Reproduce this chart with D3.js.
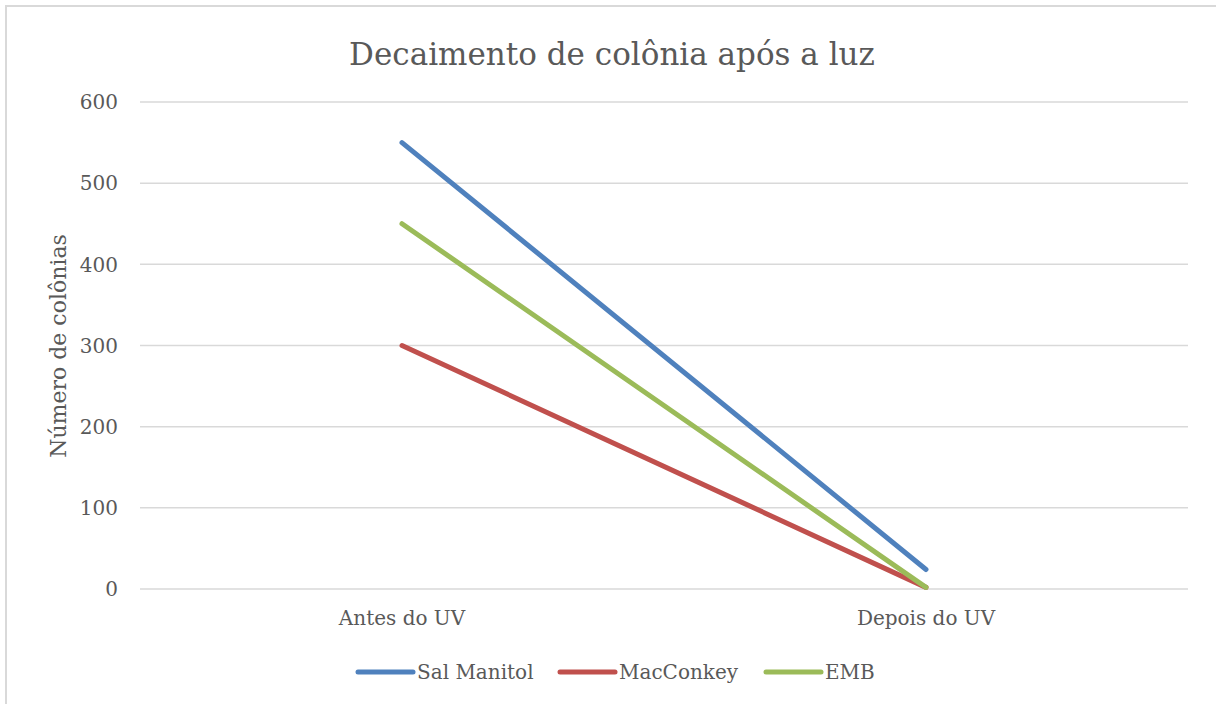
<!DOCTYPE html>
<html lang="pt">
<head>
<meta charset="utf-8">
<title>Decaimento de colônia após a luz</title>
<script src="https://cdn.jsdelivr.net/npm/d3@7"></script>
<style>
  body { margin: 0; background: #fff; }
  svg text { font-family: "DejaVu Serif", "Liberation Serif", serif; fill: #595959; }
  .grid line { stroke: #d9d9d9; stroke-width: 1.5px; }
</style>
</head>
<body>
<div id="chart"></div>
<script>
var categories = ["Antes do UV", "Depois do UV"];
var seriesNames = ["Sal Manitol", "MacConkey", "EMB"];
var salManitol = [550, 24];
var macConkey = [300, 2];
var emb = [450, 2];
var yTicks = [0, 100, 200, 300, 400, 500, 600];
var colors = ["#4f81bd", "#c0504d", "#9bbb59"];

var width = 1216, height = 704;
var margin = {left: 140, right: 28, top: 102, bottom: 115};

var svg = d3.select("#chart").append("svg")
    .attr("width", width)
    .attr("height", height);

// chart border (right and bottom fall outside the picture)
svg.append("rect")
    .attr("x", 6).attr("y", 6)
    .attr("width", width + 10).attr("height", height + 10)
    .attr("fill", "none")
    .attr("stroke", "#d9d9d9")
    .attr("stroke-width", 2);

var x = d3.scaleBand()
    .domain(categories)
    .range([margin.left, width - margin.right]);

var y = d3.scaleLinear()
    .domain([0, 600])
    .range([height - margin.bottom, margin.top]);

// gridlines
svg.append("g").attr("class", "grid")
  .selectAll("line")
    .data(yTicks)
  .enter().append("line")
    .attr("x1", margin.left)
    .attr("x2", width - margin.right)
    .attr("y1", function(d) { return y(d); })
    .attr("y2", function(d) { return y(d); });

// y tick labels
svg.append("g")
  .selectAll("text")
    .data(yTicks)
  .enter().append("text")
    .attr("x", 118)
    .attr("y", function(d) { return y(d); })
    .attr("dy", "0.36em")
    .attr("text-anchor", "end")
    .style("font-size", "20px")
    .text(function(d) { return d; });

// category labels
svg.append("g")
  .selectAll("text")
    .data(categories)
  .enter().append("text")
    .attr("x", function(d) { return x(d) + x.bandwidth() / 2; })
    .attr("y", 625)
    .attr("text-anchor", "middle")
    .style("font-size", "20px")
    .text(function(d) { return d; });

// title
svg.append("text")
    .attr("x", 612)
    .attr("y", 65)
    .attr("text-anchor", "middle")
    .style("font-size", "31px")
    .text("Decaimento de colônia após a luz");

// y axis title
svg.append("text")
    .attr("transform", "translate(66," + 346 + ") rotate(-90)")
    .attr("text-anchor", "middle")
    .style("font-size", "22px")
    .text("Número de colônias");

var series = [salManitol, macConkey, emb];

var line = d3.line()
    .x(function(d, i) { return x(categories[i]) + x.bandwidth() / 2; })
    .y(function(d) { return y(d); });

svg.append("g")
  .selectAll("path")
    .data(series)
  .enter().append("path")
    .attr("d", line)
    .attr("fill", "none")
    .attr("stroke", function(d, i) { return colors[i]; })
    .attr("stroke-width", 5)
    .attr("stroke-linecap", "round")
    .attr("stroke-linejoin", "round");

// legend
var legendX = [358, 560, 766];
var legend = svg.append("g")
  .selectAll("g")
    .data(seriesNames)
  .enter().append("g")
    .attr("transform", function(d, i) { return "translate(" + legendX[i] + ",672)"; });

legend.append("line")
    .attr("x1", 0).attr("x2", 55)
    .attr("y1", 0).attr("y2", 0)
    .attr("stroke", function(d, i) { return colors[i]; })
    .attr("stroke-width", 5)
    .attr("stroke-linecap", "round");

legend.append("text")
    .attr("x", 59)
    .attr("y", 0)
    .attr("dy", "0.36em")
    .style("font-size", "20px")
    .text(function(d) { return d; });
</script>
</body>
</html>
